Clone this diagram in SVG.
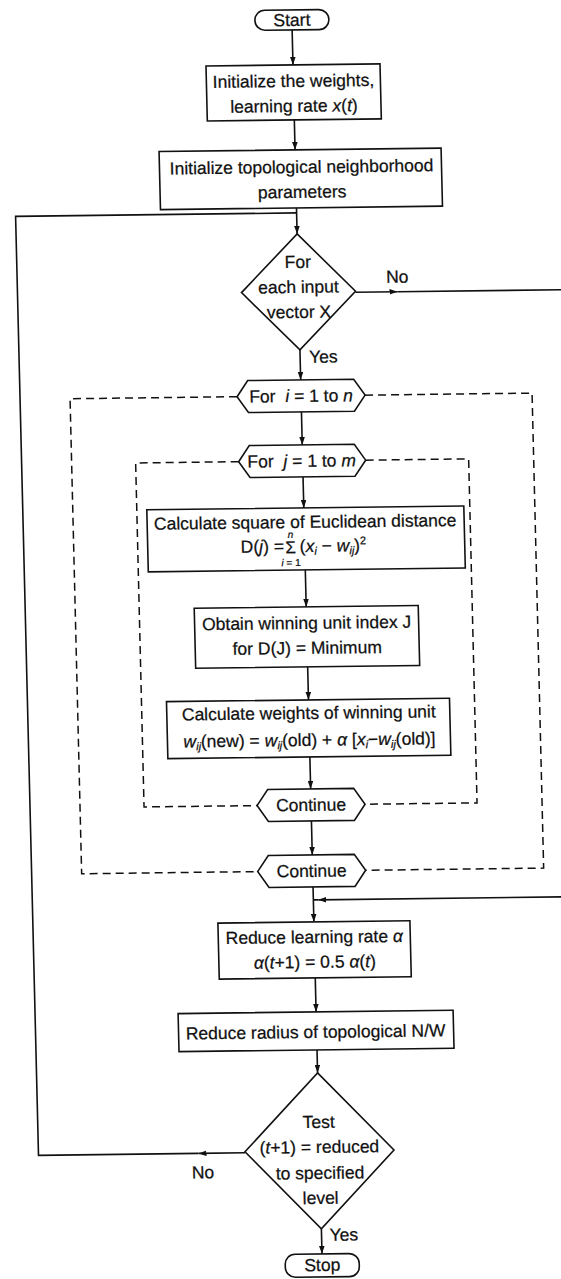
<svg xmlns="http://www.w3.org/2000/svg" width="561" height="1279" viewBox="0 0 561 1279">
<style>
.box{fill:#fff;stroke:#111;stroke-width:1.6}
.ln{fill:none;stroke:#111;stroke-width:1.6}
.dash{fill:none;stroke:#111;stroke-width:1.5;stroke-dasharray:8 5}
text{font-family:"Liberation Sans",Arial,sans-serif;font-size:17.5px;fill:#111;stroke:#111;stroke-width:0.25;text-anchor:middle}
.i{font-style:italic}
.s{font-size:11px}
.t{font-size:10px}
.l{text-anchor:start}
</style>
<defs>
<marker id="ah" viewBox="0 0 10 7" refX="10" refY="3.5" markerWidth="8" markerHeight="5.6" markerUnits="userSpaceOnUse" orient="auto"><path d="M0,0 L10,3.5 L0,7 z" fill="#111"/></marker>
</defs>
<rect width="561" height="1279" fill="#fff"/>
<g transform="matrix(1 -0.0122 0.0244 1 -15.6 3.66)">
<g id="connectors">
<path class="ln" d="M307,30 V65" marker-end="url(#ah)"/>
<path class="ln" d="M307,120 V150" marker-end="url(#ah)"/>
<path class="ln" d="M307,208 V234" marker-end="url(#ah)"/>
<path class="ln" d="M307,350 V380" marker-end="url(#ah)"/>
<path class="ln" d="M307,412 V445" marker-end="url(#ah)"/>
<path class="ln" d="M307,477 V508" marker-end="url(#ah)"/>
<path class="ln" d="M307,570 V607" marker-end="url(#ah)"/>
<path class="ln" d="M307,667 V700" marker-end="url(#ah)"/>
<path class="ln" d="M307,757 V789" marker-end="url(#ah)"/>
<path class="ln" d="M307,821 V855" marker-end="url(#ah)"/>
<path class="ln" d="M307,887 V922" marker-end="url(#ah)"/>
<path class="ln" d="M307,978 V1012" marker-end="url(#ah)"/>
<path class="ln" d="M307,1050 V1073" marker-end="url(#ah)"/>
<path class="ln" d="M307,1229 V1254" marker-end="url(#ah)"/>
<path class="ln" d="M364,293 H406" marker-end="url(#ah)"/>
<path class="ln" d="M406,293 H640"/>
<path class="ln" d="M640,900 H312" marker-end="url(#ah)"/>
<path class="ln" d="M312,900 H307"/>
<path class="ln" d="M232.5,1152 H186" marker-end="url(#ah)"/>
<path class="ln" d="M186,1152 H26 V213 H307"/>
<path class="dash" d="M243,396 H76 V871 H252"/>
<path class="dash" d="M371,396 H538 V871 H360"/>
<path class="dash" d="M243,461 H140 V805 H253"/>
<path class="dash" d="M370,461 H473 V805 H361"/>
</g>
<g id="start">
<rect class="box" x="270" y="10" width="74" height="20" rx="10" ry="10"/>
<text x="307" y="26">Start</text>
</g>
<g id="init-weights">
<rect class="box" x="220" y="65" width="174" height="55"/>
<text x="307" y="87">Initialize the weights,</text>
<text x="307" y="112">learning rate <tspan class="i">x</tspan>(<tspan class="i">t</tspan>)</text>
</g>
<g id="init-topo">
<rect class="box" x="171" y="150" width="282" height="58"/>
<text x="313" y="173">Initialize topological neighborhood</text>
<text x="313" y="198">parameters</text>
</g>
<g id="decision-input">
<path class="box" d="M307,234 L364,292 L307,350 L250,292 Z"/>
<text x="307" y="268">For</text>
<text x="307" y="293">each input</text>
<text x="307" y="318">vector X</text>
<text x="406" y="284">No</text>
<text class="l" x="316" y="363">Yes</text>
</g>
<g id="for-i">
<path class="box" d="M243,396 L254,380 H360 L371,396 L360,412 H254 Z"/>
<text x="307" y="402">For&#160; <tspan class="i">i</tspan> = 1 to <tspan class="i">n</tspan></text>
</g>
<g id="for-j">
<path class="box" d="M243,461 L254,445 H359 L370,461 L359,477 H254 Z"/>
<text x="306" y="467">For&#160; <tspan class="i">j</tspan> = 1 to <tspan class="i">m</tspan></text>
</g>
<g id="calc-distance">
<rect class="box" x="150" y="508" width="317" height="62"/>
<text x="308" y="528">Calculate square of Euclidean distance</text>
<text class="l" x="243" y="552">D(<tspan class="i">j</tspan>) =</text>
<text x="293" y="553" style="font-size:17px">Σ</text>
<text class="t i" x="293" y="538">n</text>
<text class="t" x="293" y="566"><tspan class="i">i</tspan> = 1</text>
<text class="l" x="302" y="552">(<tspan class="i">x</tspan><tspan class="s i" dy="3">i</tspan><tspan dy="-3"> − </tspan><tspan class="i">w</tspan><tspan class="s i" dy="3">ij</tspan><tspan dy="-3">)</tspan><tspan class="s" dy="-7">2</tspan></text>
</g>
<g id="winning-unit">
<rect class="box" x="195" y="607" width="224" height="60"/>
<text x="307" y="629">Obtain winning unit index J</text>
<text x="307" y="654">for D(J) = Minimum</text>
</g>
<g id="update-weights">
<rect class="box" x="165" y="700" width="283" height="57"/>
<text x="307" y="719">Calculate weights of winning unit</text>
<text x="307" y="746"><tspan class="i">w</tspan><tspan class="s i" dy="3">ij</tspan><tspan dy="-3">(new) = </tspan><tspan class="i">w</tspan><tspan class="s i" dy="3">ij</tspan><tspan dy="-3">(old) + </tspan><tspan class="i">α</tspan> [<tspan class="i">x</tspan><tspan class="s i" dy="3">i</tspan><tspan dy="-3">−</tspan><tspan class="i">w</tspan><tspan class="s i" dy="3">ij</tspan><tspan dy="-3">(old)]</tspan></text>
</g>
<g id="continue-j">
<path class="box" d="M253,805 L264,789 H350 L361,805 L350,821 H264 Z"/>
<text x="307" y="811">Continue</text>
</g>
<g id="continue-i">
<path class="box" d="M252,871 L263,855 H349 L360,871 L349,887 H263 Z"/>
<text x="306" y="877">Continue</text>
</g>
<g id="reduce-rate">
<rect class="box" x="211" y="922" width="192" height="56"/>
<text x="307" y="943">Reduce learning rate <tspan class="i">α</tspan></text>
<text x="307" y="968"><tspan class="i">α</tspan>(<tspan class="i">t</tspan>+1) = 0.5 <tspan class="i">α</tspan>(<tspan class="i">t</tspan>)</text>
</g>
<g id="reduce-radius">
<rect class="box" x="169" y="1012" width="275" height="38"/>
<text x="306" y="1038">Reduce radius of topological N/W</text>
</g>
<g id="decision-test">
<path class="box" d="M307,1073 L381.5,1151 L307,1229 L232.5,1151 Z"/>
<text x="307" y="1128">Test</text>
<text x="307" y="1153">(<tspan class="i">t</tspan>+1) = reduced</text>
<text x="307" y="1179">to specified</text>
<text x="307" y="1204">level</text>
<text x="190" y="1177">No</text>
<text class="l" x="315" y="1241">Yes</text>
</g>
<g id="stop">
<rect class="box" x="270" y="1254" width="74" height="23" rx="10" ry="10"/>
<text x="307" y="1271">Stop</text>
</g>
</g>
</svg>
